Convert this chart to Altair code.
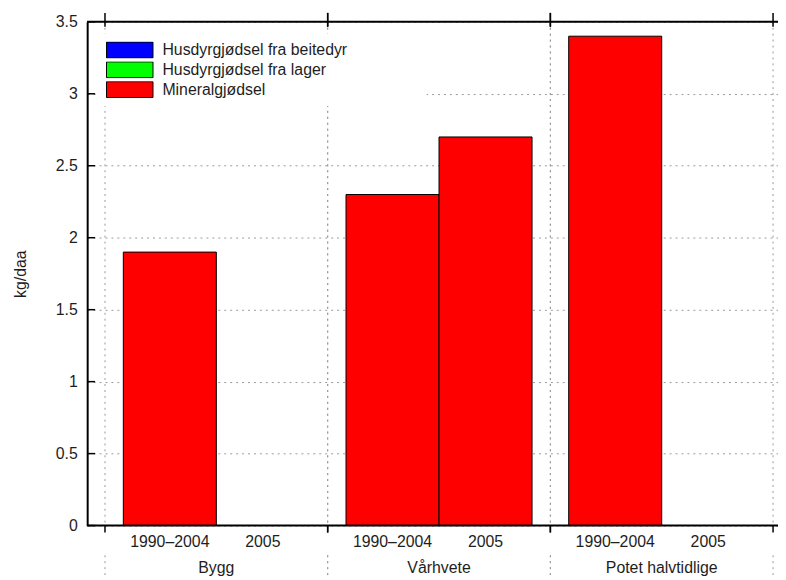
import altair as alt
import pandas as pd

crops = ["Bygg", "Vårhvete", "Potet halvtidlige"]
periods = ["1990–2004", "2005"]
sources = ["Husdyrgjødsel fra beitedyr", "Husdyrgjødsel fra lager", "Mineralgjødsel"]
colors = ["#0000ff", "#00ff00", "#ff0000"]
# values per crop x period: Bygg 90-04, Bygg 05, Vårhvete 90-04, Vårhvete 05, Potet 90-04, Potet 05
beitedyr = [0, 0, 0, 0, 0, 0]
lager = [0, 0, 0, 0, 0, 0]
mineral = [1.9, 0, 2.3, 2.7, 3.4, 0]
y_ticks = [0, 0.5, 1, 1.5, 2, 2.5, 3, 3.5]

rows = []
for i, c in enumerate(crops):
    for j, p in enumerate(periods):
        k = i * 2 + j
        for s, vals in zip(sources, [beitedyr, lager, mineral]):
            rows.append({"crop": c, "period": p, "source": s, "value": vals[k]})
df = pd.DataFrame(rows)
cells = df[["crop", "period"]].drop_duplicates().reset_index(drop=True)
crop_df = pd.DataFrame({"crop": crops})
tick_df = pd.DataFrame({"value": y_ticks})

W, H = 698, 509
FONT = "Liberation Sans"
TXT = "#1e1e1e"
GRID = "#9a9a9a"

x_scale = alt.Scale(domain=crops, paddingInner=0, paddingOuter=0.0511, align=0.7826)
xo_scale = alt.Scale(domain=periods, paddingInner=0, paddingOuter=0.197)
y_scale = alt.Scale(domain=[0, 3.5], nice=False, zero=True)

y_axis = alt.Axis(
    values=y_ticks,
    format="~g",
    title="kg/daa",
    grid=True,
    gridDash=[2, 4],
    gridColor=GRID,
    gridWidth=1,
    gridOpacity=1,
    ticks=False,
    labelPadding=10,
    labelFont=FONT,
    labelFontSize=16,
    labelColor=TXT,
    titleFont=FONT,
    titleFontSize=16,
    titleFontWeight="normal",
    titleColor=TXT,
    titlePadding=27,
    domainColor="black",
    domainWidth=2,
)


def X(band=0.5):
    return alt.X("crop:N", scale=x_scale, axis=None, sort=crops, bandPosition=band)


def Y():
    return alt.Y("value:Q", scale=y_scale, axis=y_axis)


pad = "\u2800" * 6

bars = alt.Chart(df).transform_filter("datum.value > 0").mark_bar(
    stroke="black", strokeWidth=1
).encode(
    x=alt.X("crop:N", scale=x_scale, axis=None, sort=crops),
    xOffset=alt.XOffset("period:N", scale=xo_scale, sort=periods),
    y=alt.Y("value:Q", scale=y_scale, stack="zero", axis=y_axis),
    color=alt.Color(
        "source:N",
        scale=alt.Scale(domain=sources, range=colors),
        legend=alt.Legend(
            title=None,
            orient="none",
            legendX=11,
            legendY=12,
            symbolType="M-1,-0.34L1,-0.34L1,0.34L-1,0.34Z",
            symbolSize=2209,
            symbolStrokeColor="black",
            symbolStrokeWidth=1,
            symbolOpacity=1,
            clipHeight=17,
            labelFont=FONT,
            labelFontSize=16,
            labelColor=TXT,
            labelOffset=9,
            labelLimit=600,
            labelExpr="datum.label + '" + pad + "'",
            fillColor="white",
            padding=8,
            rowPadding=3,
        ),
    ),
    order=alt.Order("source:N"),
)

grid_rule = dict(color=GRID, strokeDash=[2, 4], strokeWidth=1)
tick_rule = dict(color="black", strokeWidth=1.5)

vgrid0 = alt.Chart(crop_df).mark_rule(**grid_rule).encode(x=X(0), y=alt.value(0), y2=alt.value(H))
vgrid1 = alt.Chart(crop_df).mark_rule(**grid_rule).encode(x=X(1), y=alt.value(0), y2=alt.value(H))
low0 = alt.Chart(crop_df).mark_rule(**grid_rule).encode(x=X(0), y=alt.value(H + 30), y2=alt.value(H + 70))
low1 = alt.Chart(crop_df).mark_rule(**grid_rule).encode(x=X(1), y=alt.value(H + 30), y2=alt.value(H + 70))
btick0 = alt.Chart(crop_df).mark_rule(**tick_rule).encode(x=X(0), y=alt.value(H), y2=alt.value(H + 7))
btick1 = alt.Chart(crop_df).mark_rule(**tick_rule).encode(x=X(1), y=alt.value(H), y2=alt.value(H + 7))
ttick0 = alt.Chart(crop_df).mark_rule(**tick_rule).encode(x=X(0), y=alt.value(-9), y2=alt.value(5))
ttick1 = alt.Chart(crop_df).mark_rule(**tick_rule).encode(x=X(1), y=alt.value(-9), y2=alt.value(5))

yticks = alt.Chart(tick_df).mark_rule(**tick_rule).encode(
    y=Y(), x=alt.value(0), x2=alt.value(8)
)
top_border = alt.Chart(tick_df).transform_filter("datum.value == 3.5").mark_rule(
    color="black", strokeWidth=2
).encode(y=Y())
bottom_border = alt.Chart(tick_df).transform_filter("datum.value == 0").mark_rule(
    color="black", strokeWidth=2
).encode(y=Y())

sublabels = alt.Chart(cells).mark_text(
    font=FONT, fontSize=16, color=TXT, baseline="middle", align="center"
).encode(
    x=alt.X("crop:N", scale=x_scale, axis=None, sort=crops),
    xOffset=alt.XOffset("period:N", scale=xo_scale, sort=periods),
    y=alt.value(H + 17),
    text="period:N",
)
grouplabels = alt.Chart(crop_df).mark_text(
    font=FONT, fontSize=16, color=TXT, baseline="middle", align="center"
).encode(x=X(0.5), y=alt.value(H + 43), text="crop:N")

chart = alt.layer(
    vgrid0, vgrid1, bars, yticks, btick0, btick1, ttick0, ttick1,
    top_border, bottom_border, low0, low1, sublabels, grouplabels,
).properties(
    width=W,
    height=H,
    autosize=alt.AutoSizeParams(type="none"),
    padding={"left": 80, "top": 11, "right": 0, "bottom": 48},
    background="white",
).configure_view(stroke=None)

chart.save("out.html", embed_options={"renderer": "svg", "actions": False})
